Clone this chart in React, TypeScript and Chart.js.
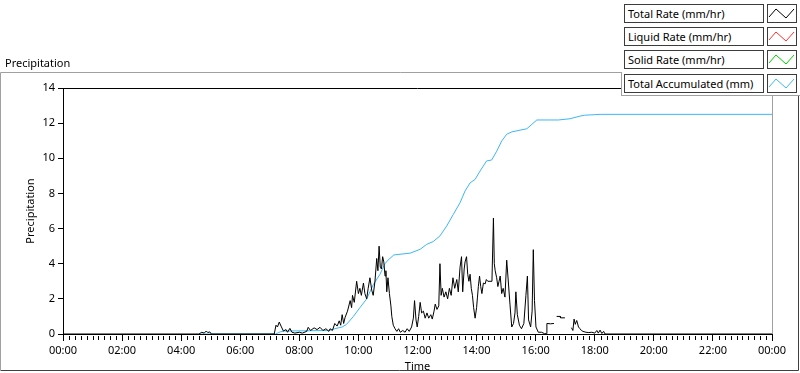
import React, { useEffect, useRef } from 'react';
import { Chart, registerables } from 'chart.js';

Chart.register(...registerables);

const FONT = '"Noto Sans", "Open Sans", sans-serif';

// ---- data ----
const xTickLabels = ['00:00', '02:00', '04:00', '06:00', '08:00', '10:00', '12:00', '14:00', '16:00', '18:00', '20:00', '22:00', '00:00'];

const seriesNames = ['Total Rate (mm/hr)', 'Liquid Rate (mm/hr)', 'Solid Rate (mm/hr)', 'Total Accumulated (mm)'];
const seriesColors = ['#000000', '#ff3030', '#00d000', '#3cb8f4'];

// time of day in hours
const rateTimes = [
  0, 4.6, 4.7, 4.78, 4.85, 4.9, 4.97, 5.02, 7.15, 7.21, 7.26, 7.32, 7.38, 7.46, 7.55, 7.6, 7.68, 7.75, 7.85, 8.0,
  8.1, 8.25, 8.3, 8.38, 8.5, 8.6, 8.7, 8.8, 8.9, 9.0, 9.04, 9.12, 9.2, 9.28, 9.35, 9.4, 9.45, 9.5, 9.55, 9.63,
  9.72, 9.77, 9.8, 9.86, 9.94, 10.0, 10.05, 10.1, 10.17, 10.22, 10.28, 10.33, 10.39, 10.45, 10.5, 10.56, 10.62, 10.66, 10.7, 10.74,
  10.78, 10.82, 10.86, 10.9, 10.93, 10.96, 11.0, 11.05, 11.1, 11.13, 11.18, 11.24, 11.3, 11.36, 11.42, 11.5, 11.58, 11.65, 11.72, 11.8,
  11.86, 11.9, 11.95, 11.99, 12.04, 12.09, 12.14, 12.2, 12.26, 12.32, 12.38, 12.45, 12.5, 12.56, 12.6, 12.66, 12.72, 12.76, 12.8, 12.84,
  12.9, 12.96, 13.02, 13.08, 13.14, 13.2, 13.26, 13.33, 13.38, 13.44, 13.49, 13.53, 13.58, 13.61, 13.66, 13.7, 13.74, 13.78, 13.82, 13.86,
  13.9, 13.95, 14.0, 14.03, 14.06, 14.1, 14.14, 14.18, 14.23, 14.29, 14.33, 14.38, 14.52, 14.57, 14.6, 14.63, 14.68, 14.72, 14.76, 14.8,
  14.85, 14.9, 14.96, 15.02, 15.06, 15.13, 15.19, 15.25, 15.3, 15.33, 15.38, 15.45, 15.52, 15.6, 15.67, 15.72, 15.76, 15.83, 15.88, 15.92,
  15.96, 16.01, 16.09, 16.2, 16.3, 16.37, 16.38, 16.5, 16.62, 16.66, 16.71, 16.83, 16.84, 16.99, 17.1, 17.21, 17.26, 17.3, 17.34, 17.39,
  17.45, 17.5, 17.55, 17.6, 17.7, 17.8, 17.9, 18.0, 18.07, 18.12, 18.18, 18.24, 18.3, 18.35, 24,
];
const totalRate = [
  0, 0, 0.1, 0.05, 0.17, 0.08, 0.12, 0, 0, 0.5, 0.4, 0.68, 0.45, 0.17, 0.25, 0.1, 0.32, 0.1, 0.05, 0.1,
  0.05, 0.15, 0.38, 0.2, 0.35, 0.25, 0.38, 0.2, 0.3, 0.15, 0.3, 0.2, 0.6, 0.45, 0.75, 0.5, 1.1, 0.6, 0.95, 1.3,
  1.9, 1.5, 2.2, 1.8, 3.0, 2.3, 2.6, 2.2, 2.9, 2.3, 2.0, 2.6, 3.2, 2.5, 2.2, 3.0, 4.3, 3.6, 5.0, 3.8,
  3.7, 4.4, 4.1, 3.3, 3.6, 2.4, 3.2, 2.3, 1.6, 1.0, 0.5, 0.3, 0.15, 0.3, 0.1, 0.2, 0.1, 0.3, 0.15, 0.4,
  0.9, 1.9, 0.8, 0.4, 1.0, 1.8, 1.2, 1.3, 0.9, 1.2, 0.9, 1.1, 0.85, 1.3, 1.7, 1.4, 1.6, 4.0, 2.2, 2.6,
  2.1, 2.4, 2.0, 2.6, 2.2, 3.2, 2.6, 3.1, 2.4, 3.8, 4.4, 2.4, 3.7, 4.1, 4.4, 3.4, 3.0, 3.4, 2.6, 2.2,
  1.5, 0.9, 1.5, 2.1, 2.7, 3.3, 2.7, 2.3, 2.9, 2.85, 3.1, 3.0, 3.0, 6.6, 4.0, 3.6, 3.2, 2.7, 3.0, 3.3,
  2.3, 2.6, 2.1, 4.2, 3.3, 1.7, 0.4, 0.6, 1.2, 2.4, 1.1, 0.5, 0.3, 0.6, 2.2, 3.3, 0.8, 0.4, 1.3, 4.8,
  1.9, 0.4, 0.1, 0.1, 0.02, 0.02, 0.6, 0.58, 0.6, null, 1.0, 1.0, 0.92, 0.92, null, 0.36, 0.2, 0.85, 0.55, 0.77,
  0.4, 0.3, 0.2, 0.15, 0.1, 0.08, 0.1, 0.05, 0.2, 0.05, 0.22, 0.03, 0.15, 0, 0,
];
// liquid and solid rates are not visible in the chart (no data shown)
const liquidRate: (number | null)[] = [];
const solidRate: (number | null)[] = [];

const accTimes = [
  4.65, 7.2, 7.35, 7.5, 9.0, 9.2, 9.45, 9.6, 9.83, 10.05, 10.28, 10.5, 10.73, 10.9, 11.0, 11.2, 11.75, 12.09,
  12.31, 12.53, 12.76, 12.99, 13.21, 13.44, 13.61, 13.78, 13.95, 14.12, 14.34, 14.51, 14.68, 14.85, 15.02, 15.19, 15.47, 15.7, 15.87, 16.04,
  16.77, 17.16, 17.5, 17.65, 18.18, 24,
];
const totalAccumulated = [
  0, 0, 0.12, 0.17, 0.2, 0.3, 0.4, 0.55, 1.0, 1.5, 2.0, 2.8, 3.4, 4.0, 4.2, 4.5, 4.6, 4.82,
  5.1, 5.26, 5.58, 6.15, 6.8, 7.47, 8.14, 8.6, 8.8, 9.28, 9.85, 9.9, 10.4, 10.98, 11.37, 11.5, 11.6, 11.68, 11.93, 12.18,
  12.18, 12.25, 12.4, 12.45, 12.5, 12.5,
];

const toPoints = (xs: number[], ys: (number | null)[]) => ys.map((y, i) => ({ x: xs[i], y }));

const framePlugin = {
  id: 'labviewFrame',
  beforeDraw(chart: any) {
    const { ctx, width, height } = chart;
    ctx.save();
    ctx.fillStyle = '#ffffff';
    ctx.fillRect(0, 0, width, height);
    ctx.restore();
  },
  afterDraw(chart: any) {
    const { ctx, chartArea } = chart;
    const { left, right, top, bottom } = chartArea;
    const xs = chart.scales.x;
    ctx.save();
    ctx.lineWidth = 1;
    // outer frame
    ctx.strokeStyle = '#a0a0a0';
    ctx.beginPath();
    ctx.moveTo(0.5, 371);
    ctx.lineTo(0.5, 72.5);
    ctx.lineTo(800, 72.5);
    ctx.stroke();
    ctx.strokeStyle = '#404040';
    ctx.beginPath();
    ctx.moveTo(1, 370.5);
    ctx.lineTo(798.5, 370.5);
    ctx.lineTo(798.5, 72);
    ctx.stroke();
    // plot area top / right edges
    ctx.strokeStyle = '#000000';
    ctx.beginPath();
    ctx.moveTo(Math.round(left), Math.round(top) + 0.5);
    ctx.lineTo(Math.round(right), Math.round(top) + 0.5);
    ctx.stroke();
    ctx.strokeStyle = '#a0a0a0';
    ctx.beginPath();
    ctx.moveTo(Math.round(right) + 0.5, Math.round(top));
    ctx.lineTo(Math.round(right) + 0.5, Math.round(bottom));
    ctx.stroke();
    // minor ticks every 12 minutes
    ctx.strokeStyle = '#000000';
    ctx.beginPath();
    for (let i = 1; i < 120; i++) {
      if (i % 10 === 0) continue;
      const px = Math.round(xs.getPixelForValue(i * 0.2)) + 0.5;
      ctx.moveTo(px, Math.round(bottom) + 2);
      ctx.lineTo(px, Math.round(bottom) + 6);
    }
    ctx.stroke();
    ctx.restore();
  },
};

function ZigZag({ color }: { color: string }) {
  return (
    <svg width="27" height="17" style={{ display: 'block' }}>
      <polyline points="1,12 8,4 18,13 26,4" fill="none" stroke={color} strokeWidth="1" />
    </svg>
  );
}

export default function App() {
  const canvasRef = useRef<HTMLCanvasElement | null>(null);

  useEffect(() => {
    if (!canvasRef.current) return;
    const tickFont = { family: FONT, size: 11 };
    const chart = new Chart(canvasRef.current, {
      type: 'line',
      data: {
        datasets: [
          {
            label: seriesNames[0],
            data: toPoints(rateTimes, totalRate),
            borderColor: seriesColors[0],
            borderWidth: 1,
            pointRadius: 0,
            tension: 0,
            spanGaps: false,
            order: 0,
          },
          {
            label: seriesNames[1],
            data: toPoints(rateTimes, liquidRate),
            borderColor: seriesColors[1],
            borderWidth: 1,
            pointRadius: 0,
            order: 2,
          },
          {
            label: seriesNames[2],
            data: toPoints(rateTimes, solidRate),
            borderColor: seriesColors[2],
            borderWidth: 1,
            pointRadius: 0,
            order: 3,
          },
          {
            label: seriesNames[3],
            data: toPoints(accTimes, totalAccumulated),
            borderColor: seriesColors[3],
            borderWidth: 1,
            pointRadius: 0,
            tension: 0,
            order: 1,
          },
        ],
      },
      options: {
        responsive: false,
        animation: false,
        devicePixelRatio: 1,
        layout: { padding: { top: 88, right: 28, left: 0, bottom: 0 } },
        plugins: { legend: { display: false }, tooltip: { enabled: false } },
        scales: {
          x: {
            type: 'linear',
            min: 0,
            max: 24,
            afterFit: (s: any) => {
              s.height = 39;
            },
            ticks: {
              stepSize: 2,
              autoSkip: false,
              maxRotation: 0,
              padding: 3,
              color: '#000000',
              font: tickFont,
              callback: (v: any) => xTickLabels[Math.round(Number(v) / 2)],
            },
            grid: { drawOnChartArea: false, drawTicks: true, tickLength: 7, color: '#000000' },
            border: { display: true, color: '#000000' },
            title: { display: true, text: 'Time', color: '#000000', font: tickFont, padding: { top: 0, bottom: 0 } },
          },
          y: {
            min: 0,
            max: 14,
            afterFit: (s: any) => {
              s.width = 63;
            },
            ticks: { stepSize: 2, padding: 3, color: '#000000', font: tickFont },
            grid: { drawOnChartArea: false, drawTicks: true, tickLength: 5, color: '#000000' },
            border: { display: true, color: '#000000' },
            title: { display: true, text: 'Precipitation', color: '#000000', font: tickFont, padding: { top: 24, bottom: 0 } },
          },
        },
      },
      plugins: [framePlugin],
    } as any);
    return () => chart.destroy();
  }, []);

  const rowTops = [4, 27, 50, 74];

  return (
    <div style={{ position: 'fixed', left: 0, top: 0, width: 800, height: 373, background: '#ffffff', overflow: 'hidden', fontFamily: FONT }}>
      <canvas ref={canvasRef} width={800} height={373} style={{ position: 'absolute', left: 0, top: 0, width: 800, height: 373 }} />
      <div style={{ position: 'absolute', left: 5, top: 55, fontSize: 11, lineHeight: '16px', color: '#000' }}>Precipitation</div>
      <div style={{ position: 'absolute', left: 621, top: 0, width: 179, height: 96, background: '#ffffff', borderBottom: '1px solid #a0a0a0', boxSizing: 'border-box' }} />
      <div style={{ position: 'absolute', left: 621, top: 72, width: 1, height: 24, background: '#a0a0a0' }} />
      {seriesNames.map((name, i) => (
        <React.Fragment key={name}>
          <div
            style={{
              position: 'absolute',
              left: 624,
              top: rowTops[i],
              width: 140,
              height: 19,
              border: '1px solid #3c3c3c',
              boxSizing: 'border-box',
              background: '#fff',
              fontSize: 11,
              lineHeight: '17px',
              paddingLeft: 3,
              color: '#000',
              whiteSpace: 'nowrap',
            }}
          >
            {name}
          </div>
          <div
            style={{
              position: 'absolute',
              left: 767,
              top: rowTops[i],
              width: 30,
              height: 19,
              border: '1px solid #3c3c3c',
              boxSizing: 'border-box',
              background: '#fff',
            }}
          >
            <ZigZag color={seriesColors[i]} />
          </div>
        </React.Fragment>
      ))}
    </div>
  );
}
